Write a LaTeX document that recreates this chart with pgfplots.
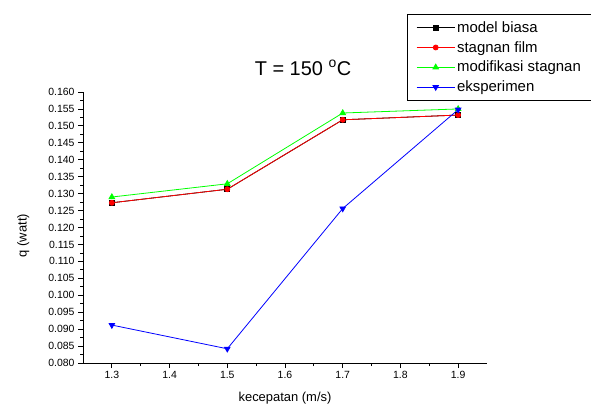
\documentclass[border=0pt]{standalone}
\usepackage{fontspec}
\setmainfont{Liberation Sans}
\usepackage{pgfplots}
\pgfplotsset{compat=1.18}
\begin{document}
\begin{tikzpicture}[x=1bp,y=1bp]
\useasboundingbox (0,0) rectangle (591,407);
\begin{axis}[
  at={(83bp,44bp)}, anchor=south west,
  scale only axis, width=404bp, height=271bp,
  xmin=1.25, xmax=1.95, ymin=0.080, ymax=0.160,
  axis x line*=bottom, axis y line*=left,
  axis line style={-, line width=0.8bp},
  xtick={1.3,1.4,1.5,1.6,1.7,1.8,1.9},
  ytick={0.080,0.085,0.090,0.095,0.100,0.105,0.110,0.115,0.120,0.125,0.130,0.135,0.140,0.145,0.150,0.155,0.160},
  minor x tick num=1, minor y tick num=1,
  tick align=outside,
  major tick length=5bp, minor tick length=3bp,
  tick style={line width=0.8bp, black},
  scaled y ticks=false,
  xticklabel style={/pgf/number format/fixed, /pgf/number format/fixed zerofill, /pgf/number format/precision=1},
  yticklabel style={/pgf/number format/fixed, /pgf/number format/fixed zerofill, /pgf/number format/precision=3},
  /pgf/number format/assume math mode=true,
  tick label style={font=\fontsize{10.5}{12}\selectfont},
  xlabel={kecepatan (m/s)}, ylabel={q (watt)},
  label style={font=\fontsize{13}{15}\selectfont},
  xlabel style={at={(axis description cs:0.5,-0.13)}, anchor=center},
  ylabel style={at={(axis description cs:-0.148,0.47)}, anchor=center},
  legend style={at={(axis description cs:0.802,1.287)}, anchor=north west,
    draw=black, line width=0.6bp, font=\fontsize{15}{17}\selectfont,
    inner xsep=9bp, inner ysep=5bp, row sep=3.5bp, cells={anchor=west}},
  legend image code/.code={\draw[mark repeat=2,mark phase=2,#1] plot coordinates {(0bp,0bp) (19bp,0bp) (38bp,0bp)};},
  every axis plot/.append style={line width=0.8bp},
]
\addplot[black, mark=square*, mark size=2.5bp] coordinates {(1.3,0.1273) (1.5,0.1313) (1.7,0.1518) (1.9,0.1532)};
\addlegendentry{model biasa}
\addplot[red, mark=*, mark size=2.5bp] coordinates {(1.3,0.1273) (1.5,0.1313) (1.7,0.1518) (1.9,0.1532)};
\addlegendentry{stagnan film}
\addplot[green, mark=triangle*, mark size=3.2bp] coordinates {(1.3,0.1290) (1.5,0.1329) (1.7,0.1538) (1.9,0.1550)};
\addlegendentry{modifikasi stagnan}
\addplot[blue, mark=triangle*, mark options={rotate=180}, mark size=3.2bp] coordinates {(1.3,0.0912) (1.5,0.0842) (1.7,0.1256) (1.9,0.1548)};
\addlegendentry{eksperimen}
\end{axis}
\node[font=\fontsize{20}{23}\selectfont, anchor=base] at (303,332) {T = 150 \textsuperscript{o}C};
\end{tikzpicture}
\end{document}
